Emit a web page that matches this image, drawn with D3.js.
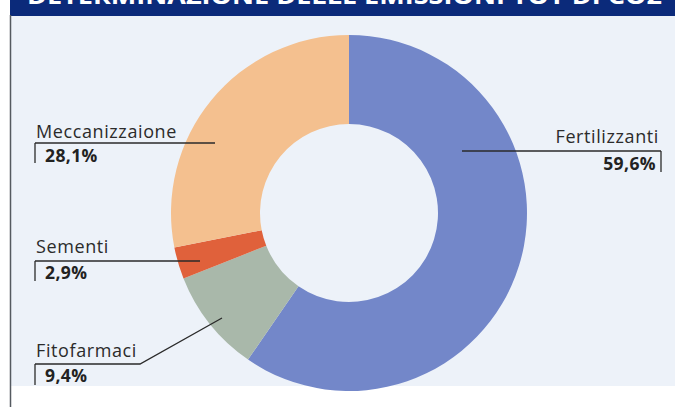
<!DOCTYPE html>
<html>
<head>
<meta charset="utf-8">
<script src="https://cdn.jsdelivr.net/npm/d3@7"></script>
<style>
  html, body { margin: 0; padding: 0; background: #ffffff; }
  svg { display: block; }
  text { font-family: "Open Sans", "Noto Sans", sans-serif; }
</style>
</head>
<body>
<svg id="chart" width="675" height="407"></svg>
<script>
// Share of total emissions by source (percent), clockwise from 12 o'clock
const categories = ["Fertilizzanti", "Fitofarmaci", "Sementi", "Meccanizzaione"];
const shares = [59.6, 9.4, 2.9, 28.1];
const shareLabels = ["59,6%", "9,4%", "2,9%", "28,1%"];
const sliceColors = ["#7387c9", "#a9b8aa", "#e0613b", "#f4c08f"];
const titleText = "DETERMINAZIONE DELLE EMISSIONI TOT DI CO2";

const W = 675, H = 407;
const svg = d3.select("#chart");

// header band; the title runs off the top edge
svg.append("rect").attr("x", 10).attr("y", 0).attr("width", W - 10).attr("height", 16)
  .attr("fill", "#0b2a7a");
svg.append("text")
  .attr("x", 27).attr("y", 4)
  .attr("textLength", 635).attr("lengthAdjust", "spacingAndGlyphs")
  .attr("fill", "#ffffff").attr("font-weight", 700).attr("font-size", 24)
  .text(titleText);

// light panel behind the chart
svg.append("rect").attr("x", 11).attr("y", 16).attr("width", W - 11).attr("height", 370)
  .attr("fill", "#edf2f9");
// frame rule on the left
svg.append("line").attr("x1", 10.5).attr("x2", 10.5).attr("y1", 15).attr("y2", H)
  .attr("stroke", "#555a60").attr("stroke-width", 1.5);

// donut
const cx = 349, cy = 213, rOuter = 178, rInner = 89;
const data = categories.map((c, i) => ({ name: c, value: shares[i], label: shareLabels[i], color: sliceColors[i] }));
const pie = d3.pie().value(d => d.value).sort(null);
const arc = d3.arc().innerRadius(rInner).outerRadius(rOuter);
const arcs = pie(data);

const g = svg.append("g").attr("transform", `translate(${cx},${cy})`);
g.selectAll("path").data(arcs).join("path")
  .attr("d", arc)
  .attr("fill", d => d.data.color);

// callouts: where each text block sits and where its leader meets the ring
const callouts = {
  "Fertilizzanti": { side: "right", x: 660, nameY: 143, ruleY: 151, valY: 170, tickEnd: 172, tip: [462, 151] },
  "Meccanizzaione": { side: "left", x: 35, nameY: 138, ruleY: 143, valY: 162, tickEnd: 163, tip: [215, 143] },
  "Sementi": { side: "left", x: 35, nameY: 253, ruleY: 261, valY: 279, tickEnd: 281, tip: [200, 261] },
  "Fitofarmaci": { side: "left", x: 35, nameY: 357, ruleY: 364, valY: 382, tickEnd: 385, elbow: 140, tip: [222, 318] }
};

const lab = svg.append("g");
arcs.forEach(a => {
  const c = callouts[a.data.name];
  const left = c.side === "left";
  const anchor = left ? "start" : "end";
  const pts = left
    ? (c.elbow ? [[c.x, c.ruleY], [c.elbow, c.ruleY], c.tip] : [[c.x, c.ruleY], c.tip])
    : [c.tip, [c.x + 1, c.ruleY]];
  lab.append("path")
    .attr("d", d3.line()(pts))
    .attr("fill", "none").attr("stroke", "#2a2a2a").attr("stroke-width", 1.3);
  lab.append("line")
    .attr("x1", left ? c.x : c.x + 1).attr("x2", left ? c.x : c.x + 1)
    .attr("y1", c.ruleY).attr("y2", c.tickEnd)
    .attr("stroke", "#2a2a2a").attr("stroke-width", 1.3);
  lab.append("text")
    .attr("x", left ? c.x + 1 : c.x - 1).attr("y", c.nameY)
    .attr("text-anchor", anchor).attr("font-size", 18).attr("letter-spacing", 0.6)
    .attr("fill", "#2b2b2b")
    .text(a.data.name);
  lab.append("text")
    .attr("x", left ? c.x + 10 : c.x - 4).attr("y", c.valY)
    .attr("text-anchor", anchor).attr("font-size", 17.5).attr("font-weight", 700)
    .attr("letter-spacing", 0.4).attr("fill", "#222222")
    .text(a.data.label);
});
</script>
</body>
</html>
